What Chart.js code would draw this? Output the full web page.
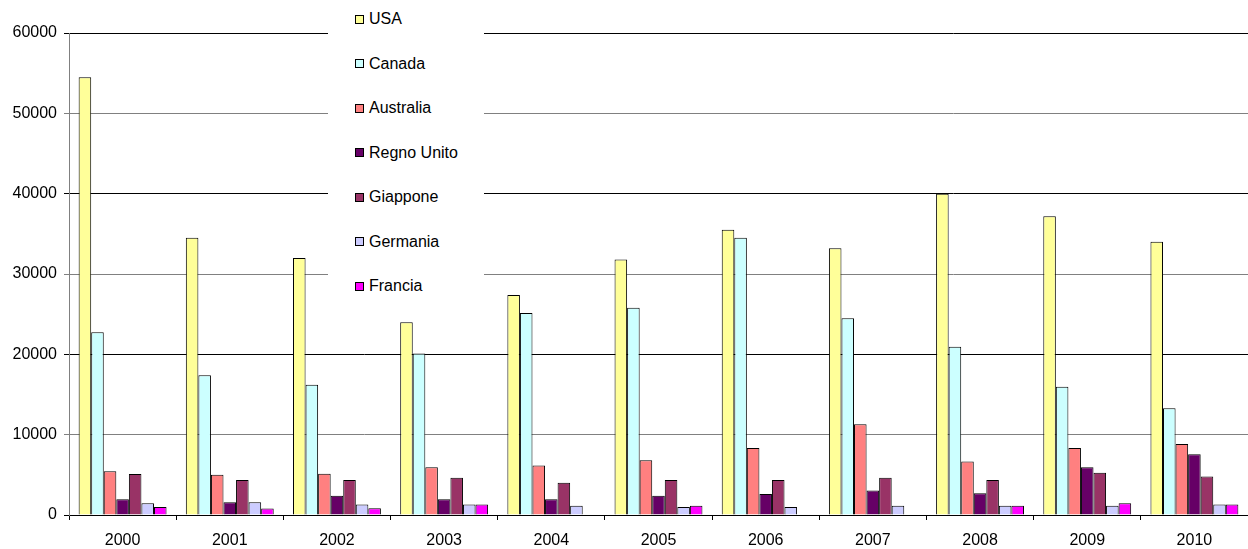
<!DOCTYPE html>
<html>
<head>
<meta charset="UTF-8">
<title>Serie 2000-2010</title>
<script src="https://cdn.jsdelivr.net/npm/chart.js"></script>
<style>
    body {
        margin: 0;
        background: white;
        font-family: "Liberation Sans", Arial, sans-serif;
    }
    #wrap {
        position: relative;
        width: 1248px;
        height: 549px;
    }
    #legend {
        position: absolute;
        left: 328px;
        top: 0;
        width: 156px;
        height: 310px;
        background: white;
    }
    .leg-item {
        position: absolute;
        left: 27px;
        height: 20px;
        display: flex;
        align-items: center;
        font-size: 16px;
        color: #000;
        white-space: nowrap;
    }
    .leg-box {
        width: 7px;
        height: 7px;
        border: 1px solid #000;
        margin-right: 5px;
    }
</style>
</head>
<body>
<div id="wrap">
    <canvas id="chart" width="1248" height="549"></canvas>
    <div id="legend"></div>
</div>
<script>
// anni sull'asse x
const years = ['2000', '2001', '2002', '2003', '2004', '2005', '2006', '2007', '2008', '2009', '2010'];

// valori per paese
const usa        = [54500, 34500, 32000, 24000, 27400, 31800, 35500, 33200, 40000, 37200, 34000];
const canada     = [22750, 17400, 16200, 20100, 25150, 25800, 34500, 24500, 20950, 15950, 13300];
const australia  = [5450, 5000, 5150, 5950, 6150, 6800, 8350, 11300, 6650, 8350, 8850];
const regnoUnito = [1950, 1600, 2400, 1950, 1950, 2400, 2600, 3050, 2700, 5950, 7550];
const giappone   = [5100, 4350, 4350, 4650, 4000, 4350, 4350, 4650, 4350, 5250, 4800];
const germania   = [1450, 1600, 1300, 1300, 1150, 1000, 1000, 1150, 1150, 1150, 1300];
const francia    = [1000, 800, 850, 1300, null, 1150, null, null, 1150, 1450, 1300];

const countries = ['USA', 'Canada', 'Australia', 'Regno Unito', 'Giappone', 'Germania', 'Francia'];
const series = [usa, canada, australia, regnoUnito, giappone, germania, francia];
const colors = ['#FFFF99', '#CCFFFF', '#FF8080', '#660066', '#993366', '#CCCCFF', '#FF00FF'];

// asse y
const yMax = 60000;
const yStep = 10000;

const datasets = countries.map((name, i) => ({
    label: name,
    data: series[i],
    backgroundColor: colors[i],
    borderColor: '#000',
    borderWidth: 1,
    categoryPercentage: 0.82,
    barPercentage: 1.0
}));

Chart.defaults.font.family = '"Liberation Sans", Arial, sans-serif';
Chart.defaults.font.size = 16;
Chart.defaults.color = '#000';

new Chart(document.getElementById('chart'), {
    type: 'bar',
    data: { labels: years, datasets: datasets },
    options: {
        responsive: false,
        animation: false,
        layout: { padding: { top: 33, right: 0, left: 0, bottom: 0 } },
        plugins: {
            legend: { display: false },
            tooltip: { enabled: false }
        },
        scales: {
            x: {
                grid: {
                    drawOnChartArea: false,
                    drawTicks: true,
                    tickLength: 5,
                    color: '#000'
                },
                border: { color: '#000', width: 1 },
                ticks: { padding: 11, maxRotation: 0 },
                afterFit: s => { s.height = 34; }
            },
            y: {
                min: 0,
                max: yMax,
                ticks: {
                    stepSize: yStep,
                    padding: 7,
                    callback: v => String(v)
                },
                grid: {
                    tickLength: 5,
                    color: c => (c.tick && c.tick.value % 20000 === 0) ? '#000' : '#808080'
                },
                border: { color: '#808080', width: 1 },
                afterFit: s => { s.width = 69; }
            }
        }
    }
});

// legenda sopra il grafico
const legend = document.getElementById('legend');
countries.forEach((name, i) => {
    const item = document.createElement('div');
    item.className = 'leg-item';
    item.style.top = (9 + i * 44.5) + 'px';
    item.innerHTML = '<span class="leg-box" style="background:' + colors[i] + '"></span>' + name;
    legend.appendChild(item);
});
</script>
</body>
</html>
